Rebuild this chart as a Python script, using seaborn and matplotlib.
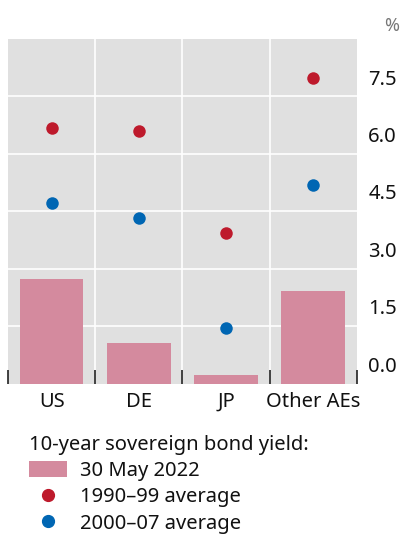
import matplotlib
matplotlib.use("Agg")
import matplotlib.pyplot as plt
import seaborn as sns
import pandas as pd
from matplotlib.patches import Patch
from matplotlib.lines import Line2D

categories = ["US", "DE", "JP", "Other AEs"]
may_2022 = [2.73, 1.06, 0.22, 2.41]
avg_1990_99 = [6.67, 6.59, 3.93, 7.99]
avg_2000_07 = [4.71, 4.32, 1.45, 5.18]
yticks = [0.0, 1.5, 3.0, 4.5, 6.0, 7.5]

BAR = "#d48a9e"
RED = "#be1a2c"
BLUE = "#0066b3"
BG = "#e0e0e0"

sns.set_theme(style="white")
plt.rcParams["font.family"] = ["Noto Sans", "DejaVu Sans"]

fig = plt.figure(figsize=(4.01, 5.34), dpi=100)
ax = fig.add_axes([0.02, 0.2818, 0.87, 0.645])
ax.set_facecolor(BG)

df = pd.DataFrame({"cat": categories, "may": may_2022,
                   "a90": avg_1990_99, "a00": avg_2000_07})

sns.barplot(data=df, x="cat", y="may", color=BAR, saturation=1, width=0.73,
            linewidth=0, edgecolor="none", ax=ax, zorder=2)
sns.stripplot(data=df, x="cat", y="a90", color=RED, jitter=False, size=9,
              linewidth=0, ax=ax, zorder=3)
sns.stripplot(data=df, x="cat", y="a00", color=BLUE, jitter=False, size=9,
              linewidth=0, ax=ax, zorder=3)

ax.set_xlim(-0.5, len(categories) - 0.5)
ax.set_ylim(0, 9)
ax.set_xlabel("")
ax.set_ylabel("")
for s in ax.spines.values():
    s.set_visible(False)
ax.set_axisbelow(False)

# gridlines
for y in yticks[1:]:
    ax.axhline(y, color="white", lw=1.2, zorder=1)
for i in range(1, len(categories)):
    ax.axvline(i - 0.5, color="white", lw=1.2, zorder=1)

ax.set_yticks([])
ax.set_xticks(range(len(categories)))
ax.set_xticklabels(categories, fontsize=14.5, color="#111111")
ax.tick_params(axis="x", which="major", bottom=False, length=0, pad=6)
ax.set_xticks([i - 0.5 for i in range(len(categories) + 1)], minor=True)
ax.tick_params(axis="x", which="minor", bottom=True, length=10, width=1.2,
               direction="in", color="#222222")

for y in yticks:
    ax.text(1.115, y + 0.18, f"{y:.1f}", transform=ax.get_yaxis_transform(),
            ha="right", va="bottom", fontsize=14.5, color="#111111")
fig.text(0.995, 0.935, "%", ha="right", va="bottom", fontsize=13, color="#777777")

handles = [Patch(facecolor=BAR, edgecolor="none"),
           Line2D([], [], marker="o", ls="", color=RED, markersize=8.5),
           Line2D([], [], marker="o", ls="", color=BLUE, markersize=8.5)]
labels = ["30 May 2022", "1990\u201399 average", "2000\u201307 average"]
leg = fig.legend(handles, labels, title="10-year sovereign bond yield:",
                 loc="upper left", bbox_to_anchor=(0.073, 0.186), frameon=False,
                 fontsize=14.5, title_fontsize=14.5, alignment="left",
                 handlelength=1.85, handleheight=0.9, handletextpad=0.65,
                 labelspacing=0.3, borderpad=0, borderaxespad=0)
for t in leg.get_texts():
    t.set_color("#111111")
leg.get_title().set_color("#111111")

fig.savefig("out.png", dpi=100)
